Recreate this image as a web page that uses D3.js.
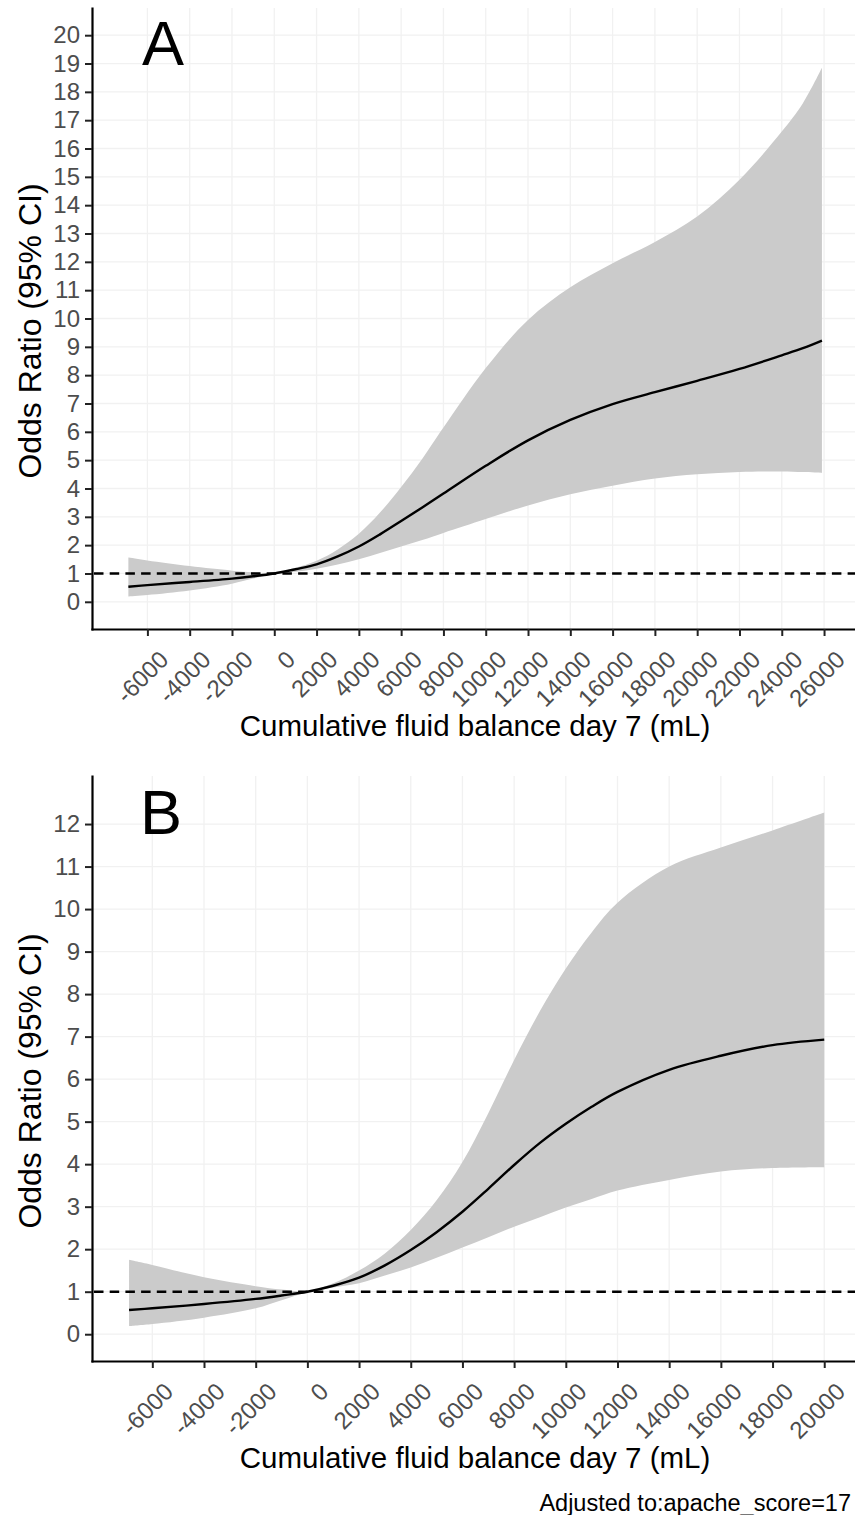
<!DOCTYPE html>
<html>
<head>
<meta charset="utf-8">
<script src="https://cdnjs.cloudflare.com/ajax/libs/d3/7.8.5/d3.min.js"></script>
<style>
  body { margin: 0; background: #fff; }
  svg { display: block; font-family: "Liberation Sans", Arial, sans-serif; }
</style>
</head>
<body>
<div class="graph"></div>
<script>
// panel A: cumulative fluid balance (mL) vs odds ratio
var xA = [-6900, -6000, -4000, -2000, -1000, 0, 1000, 2000, 3000, 4000, 5000, 6000, 7000, 8000,
  10000, 12000, 14000, 16000, 18000, 20000, 22000, 24000, 25000, 25900];
var orA = [0.53, 0.59, 0.70, 0.82, 0.90, 1.0, 1.15, 1.32, 1.6, 1.95, 2.38, 2.85, 3.33, 3.82,
  4.8, 5.7, 6.42, 6.98, 7.4, 7.8, 8.22, 8.7, 8.95, 9.22];
var upA = [1.56, 1.46, 1.26, 1.1, 1.04, 1.01, 1.2, 1.45, 1.85, 2.4, 3.15, 4.05, 5.05, 6.15,
  8.25, 9.95, 11.1, 11.95, 12.7, 13.6, 14.9, 16.6, 17.6, 18.85];
var loA = [0.19, 0.24, 0.40, 0.64, 0.82, 0.98, 1.06, 1.17, 1.32, 1.5, 1.72, 1.95, 2.18, 2.43,
  2.92, 3.4, 3.8, 4.1, 4.35, 4.5, 4.58, 4.6, 4.58, 4.55];
var xTicksA = d3.range(-6000, 26001, 2000);
var yTicksA = d3.range(0, 21, 1);

// panel B
var xB = [-6900, -6000, -4000, -2000, -1000, 0, 1000, 2000, 3000, 4000, 5000, 6000, 7000, 8000,
  9000, 10000, 11000, 12000, 14000, 16000, 18000, 20000];
var orB = [0.57, 0.61, 0.71, 0.83, 0.91, 1.0, 1.14, 1.33, 1.62, 1.98, 2.4, 2.88, 3.42, 3.98,
  4.5, 4.95, 5.35, 5.7, 6.22, 6.55, 6.8, 6.93];
var upB = [1.75, 1.63, 1.34, 1.13, 1.05, 1.01, 1.2, 1.5, 1.9, 2.45, 3.15, 4.05, 5.2, 6.45,
  7.6, 8.6, 9.45, 10.15, 11.0, 11.45, 11.85, 12.27];
var loB = [0.19, 0.24, 0.39, 0.61, 0.80, 0.99, 1.1, 1.2, 1.38, 1.57, 1.8, 2.04, 2.28, 2.53,
  2.75, 2.98, 3.18, 3.38, 3.63, 3.83, 3.91, 3.93];
var xTicksB = d3.range(-6000, 20001, 2000);
var yTicksB = d3.range(0, 13, 1);

var xTitle = "Cumulative fluid balance day 7 (mL)";
var yTitle = "Odds Ratio (95% CI)";
var note = "Adjusted to:apache_score=17";

var svg = d3.select(".graph")
  .append("svg")
    .attr("width", 855)
    .attr("height", 1515);

function drawPanel(p) {

  var x = d3.scaleLinear().domain(p.xDomain).range([92, p.right]);
  var y = d3.scaleLinear().domain(p.yDomain).range([p.bottom, p.top]);

  var g = svg.append("g");

  // faint grid at every tick
  g.selectAll(".vgrid")
    .data(p.xTicks)
    .enter()
    .append("line")
      .attr("x1", function(d) { return x(d); })
      .attr("x2", function(d) { return x(d); })
      .attr("y1", p.top)
      .attr("y2", p.bottom)
      .attr("stroke", "#f1f1f1")
      .attr("stroke-width", 1.3);

  g.selectAll(".hgrid")
    .data(p.yTicks)
    .enter()
    .append("line")
      .attr("x1", 92)
      .attr("x2", p.right)
      .attr("y1", function(d) { return y(d); })
      .attr("y2", function(d) { return y(d); })
      .attr("stroke", "#f1f1f1")
      .attr("stroke-width", 1.3);

  var rows = p.xs.map(function(v, i) {
    return {x: v, or: p.or[i], lo: p.lo[i], hi: p.hi[i]};
  });

  // confidence band
  g.append("path")
    .datum(rows)
    .attr("fill", "#cbcbcb")
    .attr("d", d3.area()
      .x(function(d) { return x(d.x); })
      .y0(function(d) { return y(d.lo); })
      .y1(function(d) { return y(d.hi); })
      .curve(d3.curveCatmullRom));

  // reference line at OR = 1
  g.append("line")
    .attr("x1", 94)
    .attr("x2", p.right)
    .attr("y1", y(1))
    .attr("y2", y(1))
    .attr("stroke", "#000")
    .attr("stroke-width", 2.5)
    .attr("stroke-dasharray", "9.5,6.2");

  g.append("path")
    .datum(rows)
    .attr("fill", "none")
    .attr("stroke", "#000")
    .attr("stroke-width", 2.4)
    .attr("d", d3.line()
      .x(function(d) { return x(d.x); })
      .y(function(d) { return y(d.or); })
      .curve(d3.curveCatmullRom));

  // axes
  var ax = g.append("g")
    .attr("transform", "translate(0," + p.bottom + ")")
    .call(d3.axisBottom(x).tickValues(p.xTicks).tickSize(7).tickSizeOuter(0)
      .tickFormat(function(d) { return String(d); }));

  ax.selectAll("text")
    .attr("x", 0)
    .attr("y", 0)
    .attr("dy", null)
    .attr("text-anchor", "end")
    .attr("transform", "translate(22,32) rotate(-45)");

  var ay = g.append("g")
    .attr("transform", "translate(92,0)")
    .call(d3.axisLeft(y).tickValues(p.yTicks).tickSize(7).tickSizeOuter(0).tickPadding(5));

  g.selectAll(".domain")
    .attr("stroke", "#000")
    .attr("stroke-width", 2.2)
    .attr("stroke-linecap", "square");
  g.selectAll(".tick line")
    .attr("stroke", "#222")
    .attr("stroke-width", 2);
  g.selectAll(".tick text")
    .attr("fill", "#4d4d4d")
    .attr("font-size", 24)
    .attr("font-family", "'Liberation Sans', Arial, sans-serif");

  // titles
  g.append("text")
    .attr("x", 475)
    .attr("y", p.bottom + 107)
    .attr("text-anchor", "middle")
    .attr("font-size", 29.5)
    .text(xTitle);

  g.append("text")
    .attr("transform", "translate(41," + p.yMid + ") rotate(-90)")
    .attr("text-anchor", "middle")
    .attr("font-size", 32)
    .text(yTitle);

  g.append("text")
    .attr("x", p.labelX)
    .attr("y", p.labelY)
    .attr("font-size", 63)
    .text(p.label);
}

drawPanel({
  xs: xA, or: orA, lo: loA, hi: upA,
  xTicks: xTicksA, yTicks: yTicksA,
  xDomain: [-8620, 27700], yDomain: [-0.96, 20.96],
  right: 860, top: 8, bottom: 629, yMid: 331,
  label: "A", labelX: 142, labelY: 65
});

drawPanel({
  xs: xB, or: orB, lo: loB, hi: upB,
  xTicks: xTicksB, yTicks: yTicksB,
  xDomain: [-8334, 21345], yDomain: [-0.63, 13.13],
  right: 859, top: 776, bottom: 1361, yMid: 1081,
  label: "B", labelX: 140, labelY: 834
});

svg.append("text")
  .attr("x", 851)
  .attr("y", 1511)
  .attr("text-anchor", "end")
  .attr("font-size", 23.5)
  .text(note);
</script>
</body>
</html>
